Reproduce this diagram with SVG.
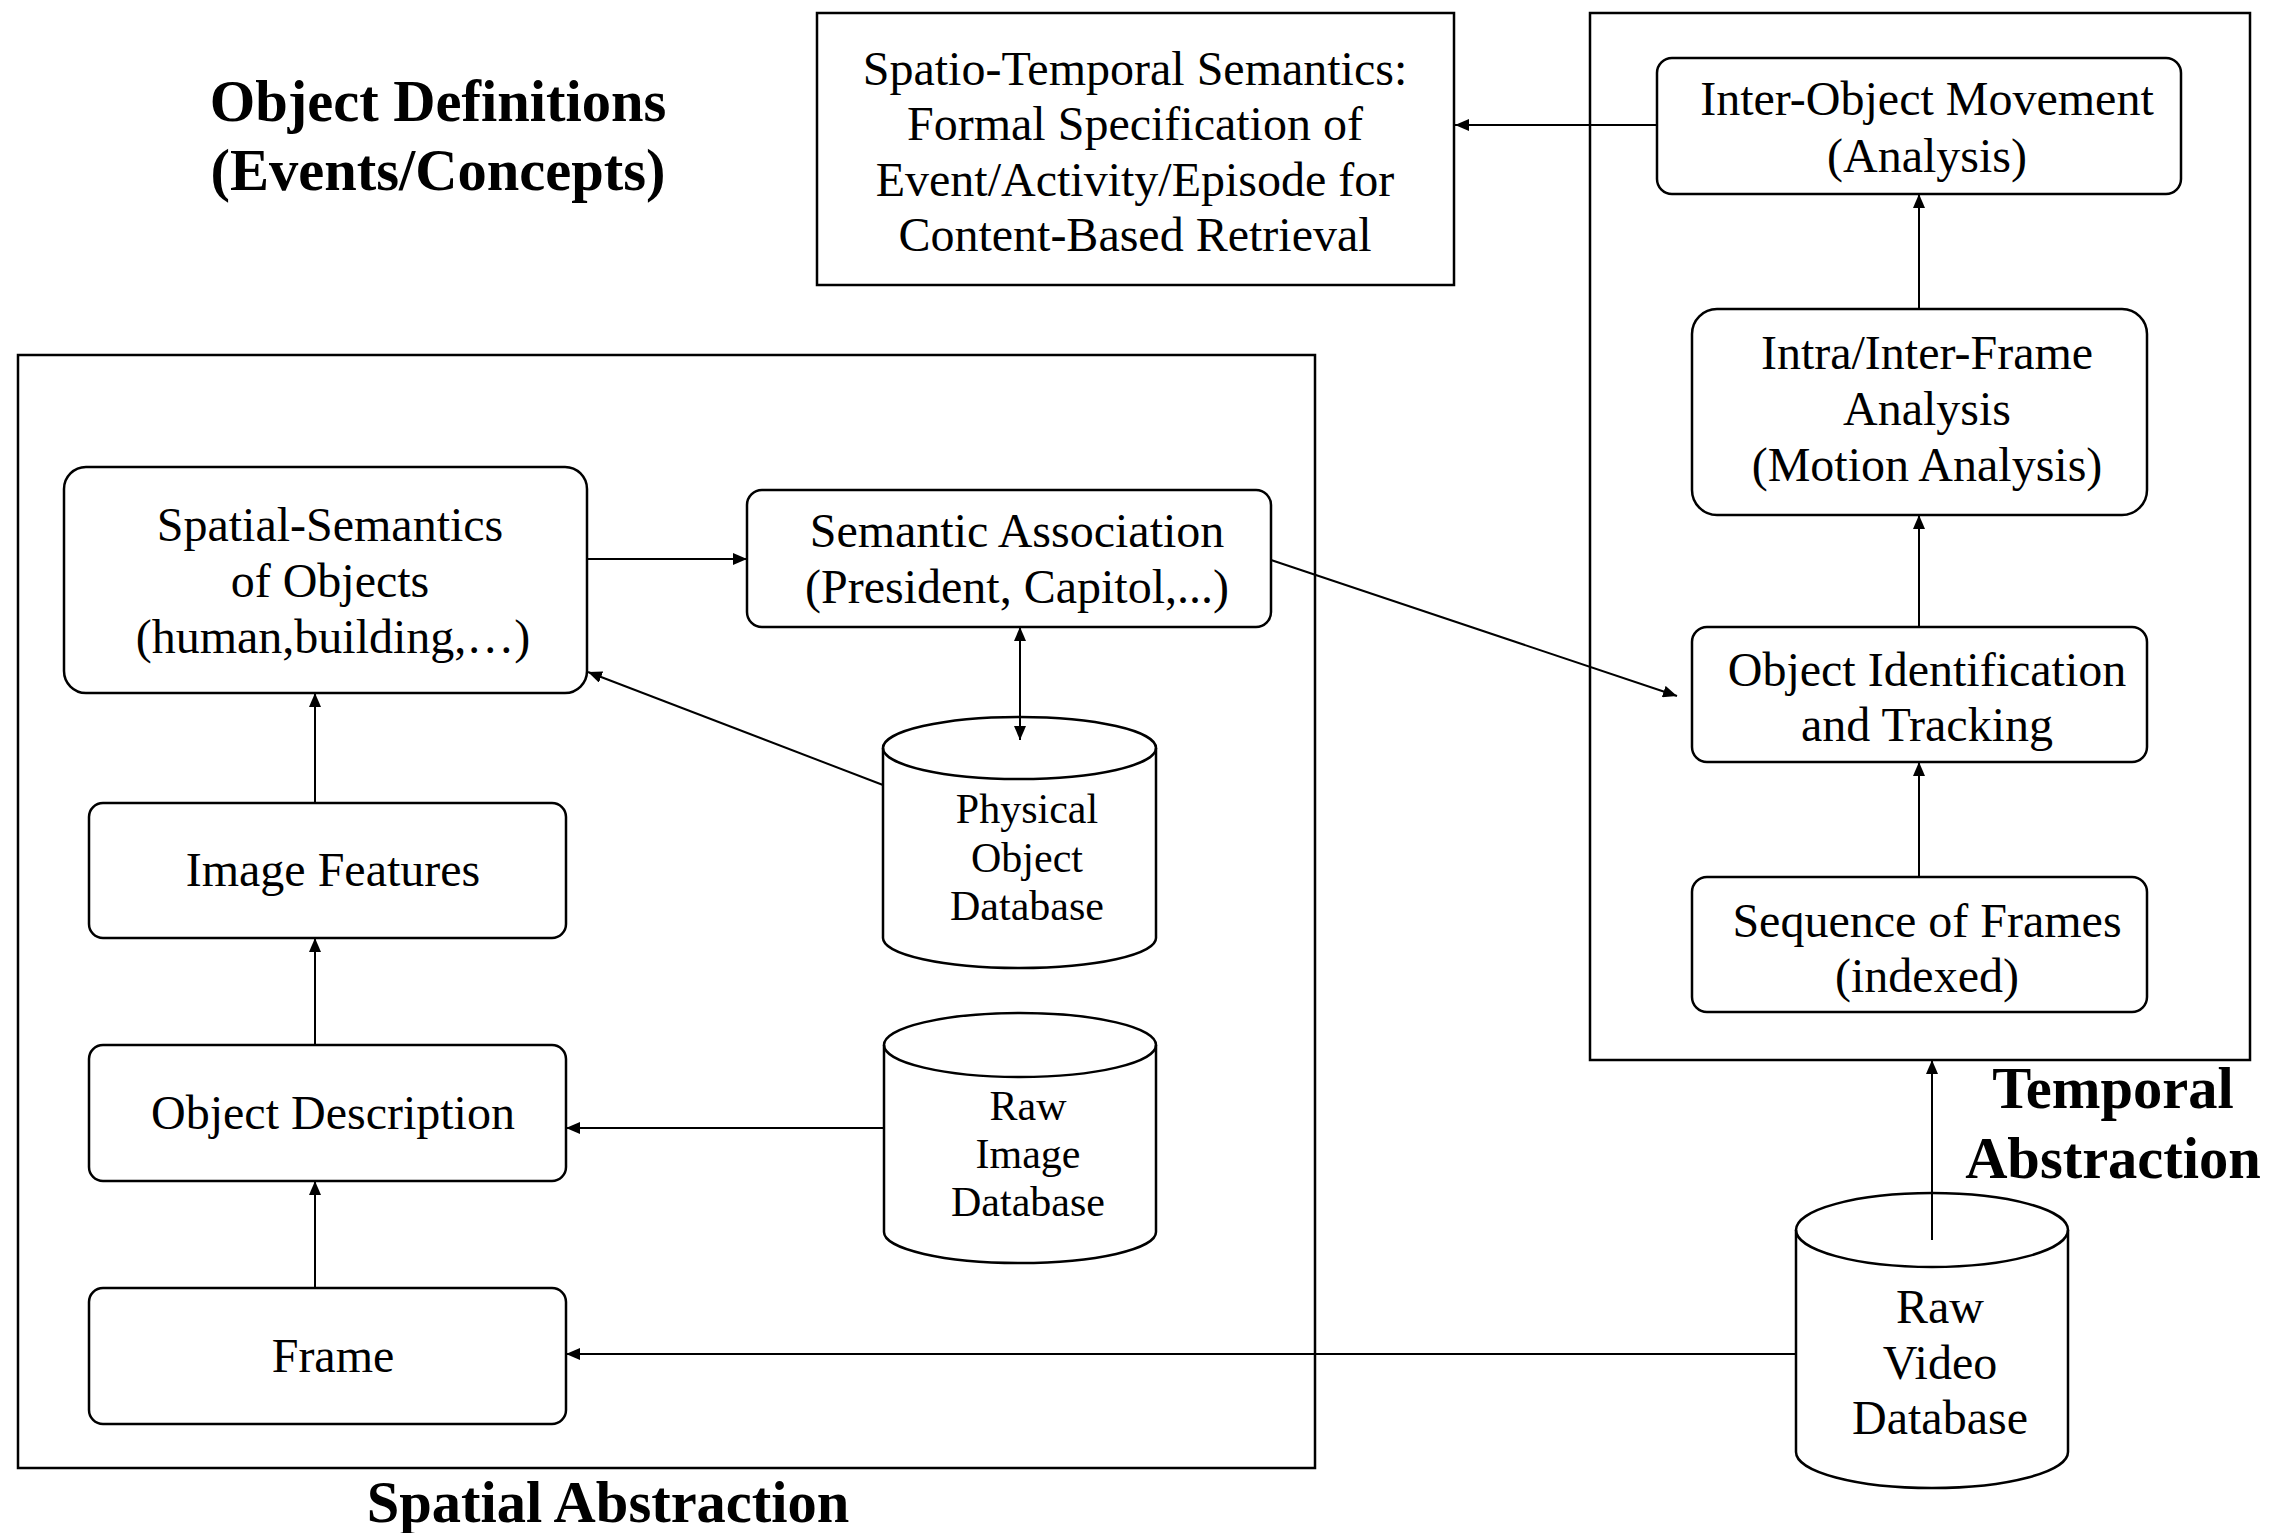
<svg xmlns="http://www.w3.org/2000/svg" width="2288" height="1533" viewBox="0 0 2288 1533">
<defs>
<marker id="ah" markerUnits="userSpaceOnUse" markerWidth="16" markerHeight="12" refX="14" refY="6" orient="auto-start-reverse">
<path d="M0,0 L14,6 L0,12 Z" fill="#000"/>
</marker>
</defs>
<style>
.box{fill:#fff;stroke:#000;stroke-width:2.5}
.frame{fill:none;stroke:#000;stroke-width:2.5}
.t{font-family:"Liberation Serif","Times New Roman",serif;font-size:48px;text-anchor:middle;fill:#000}
.s{font-size:42px}
.b{font-family:"Liberation Serif","Times New Roman",serif;font-size:58.5px;font-weight:bold;text-anchor:middle;fill:#000}
.c{fill:none;stroke:#000;stroke-width:2}
.a{marker-end:url(#ah)}
</style>
<rect width="2288" height="1533" fill="#fff"/>

<g id="titles">
<text class="b" x="438" y="121">Object Definitions</text>
<text class="b" x="438" y="190">(Events/Concepts)</text>
<text class="b" x="608" y="1522">Spatial Abstraction</text>
<text class="b" x="2113" y="1108">Temporal</text>
<text class="b" x="2113" y="1178">Abstraction</text>
</g>

<g id="spatial-frame"><rect class="frame" x="18" y="355" width="1297" height="1113"/></g>
<g id="temporal-frame"><rect class="frame" x="1590" y="13" width="660" height="1047"/></g>

<g id="spatio-temporal-semantics">
<rect class="box" x="817" y="13" width="637" height="272"/>
<text class="t" x="1135" y="85">Spatio-Temporal Semantics:</text>
<text class="t" x="1135" y="140">Formal Specification of</text>
<text class="t" x="1135" y="196">Event/Activity/Episode for</text>
<text class="t" x="1135" y="251">Content-Based Retrieval</text>
</g>

<g id="inter-object-movement">
<rect class="box" x="1657" y="58" width="524" height="136" rx="15"/>
<text class="t" x="1927" y="115">Inter-Object Movement</text>
<text class="t" x="1927" y="172">(Analysis)</text>
</g>

<g id="intra-inter-frame">
<rect class="box" x="1692" y="309" width="455" height="206" rx="25"/>
<text class="t" x="1927" y="369">Intra/Inter-Frame</text>
<text class="t" x="1927" y="425">Analysis</text>
<text class="t" x="1927" y="481">(Motion Analysis)</text>
</g>

<g id="object-identification">
<rect class="box" x="1692" y="627" width="455" height="135" rx="15"/>
<text class="t" x="1927" y="686">Object Identification</text>
<text class="t" x="1927" y="741">and Tracking</text>
</g>

<g id="sequence-of-frames">
<rect class="box" x="1692" y="877" width="455" height="135" rx="15"/>
<text class="t" x="1927" y="937">Sequence of Frames</text>
<text class="t" x="1927" y="992">(indexed)</text>
</g>

<g id="spatial-semantics">
<rect class="box" x="64" y="467" width="523" height="226" rx="22"/>
<text class="t" x="330" y="541">Spatial-Semantics</text>
<text class="t" x="330" y="597">of Objects</text>
<text class="t" x="333" y="653">(human,building,…)</text>
</g>

<g id="semantic-association">
<rect class="box" x="747" y="490" width="524" height="137" rx="15"/>
<text class="t" x="1017" y="547">Semantic Association</text>
<text class="t" x="1017" y="603">(President, Capitol,...)</text>
</g>

<g id="image-features">
<rect class="box" x="89" y="803" width="477" height="135" rx="14"/>
<text class="t" x="333" y="886">Image Features</text>
</g>

<g id="object-description">
<rect class="box" x="89" y="1045" width="477" height="136" rx="14"/>
<text class="t" x="333" y="1129">Object Description</text>
</g>

<g id="frame">
<rect class="box" x="89" y="1288" width="477" height="136" rx="14"/>
<text class="t" x="333" y="1372">Frame</text>
</g>

<g id="physical-object-database">
<path class="box" d="M883,748 A136.5,31 0 0 1 1156,748 L1156,938 A136.5,30 0 0 1 883,938 Z"/>
<path class="c" style="stroke-width:2.5" d="M883,748 A136.5,31 0 0 0 1156,748"/>
<text class="t s" x="1027" y="823">Physical</text>
<text class="t s" x="1027" y="872">Object</text>
<text class="t s" x="1027" y="920">Database</text>
</g>

<g id="raw-image-database">
<path class="box" d="M884,1045 A136,32 0 0 1 1156,1045 L1156,1232 A136,31 0 0 1 884,1232 Z"/>
<path class="c" style="stroke-width:2.5" d="M884,1045 A136,32 0 0 0 1156,1045"/>
<text class="t s" x="1028" y="1120">Raw</text>
<text class="t s" x="1028" y="1168">Image</text>
<text class="t s" x="1028" y="1216">Database</text>
</g>

<g id="raw-video-database">
<path class="box" d="M1796,1230 A136,37 0 0 1 2068,1230 L2068,1452 A136,36 0 0 1 1796,1452 Z"/>
<path class="c" style="stroke-width:2.5" d="M1796,1230 A136,37 0 0 0 2068,1230"/>
<text class="t" x="1940" y="1323">Raw</text>
<text class="t" x="1940" y="1379">Video</text>
<text class="t" x="1940" y="1434">Database</text>
</g>

<g id="connectors">
<line class="c a" x1="1657" y1="125" x2="1455" y2="125"/>
<line class="c a" x1="1919" y1="309" x2="1919" y2="194"/>
<line class="c a" x1="1919" y1="627" x2="1919" y2="515"/>
<line class="c a" x1="1919" y1="877" x2="1919" y2="762"/>
<line class="c a" x1="1932" y1="1240" x2="1932" y2="1060"/>
<line class="c a" x1="1796" y1="1354" x2="566" y2="1354"/>
<line class="c a" x1="884" y1="1128" x2="566" y2="1128"/>
<line class="c a" x1="315" y1="1288" x2="315" y2="1181"/>
<line class="c a" x1="315" y1="1045" x2="315" y2="938"/>
<line class="c a" x1="315" y1="803" x2="315" y2="693"/>
<line class="c a" x1="587" y1="559" x2="747" y2="559"/>
<line class="c a" x1="1020" y1="627" x2="1020" y2="740" style="marker-start:url(#ah)"/>
<line class="c a" x1="883" y1="785" x2="588" y2="672"/>
<line class="c a" x1="1271" y1="560" x2="1677" y2="696"/>
</g>
</svg>
